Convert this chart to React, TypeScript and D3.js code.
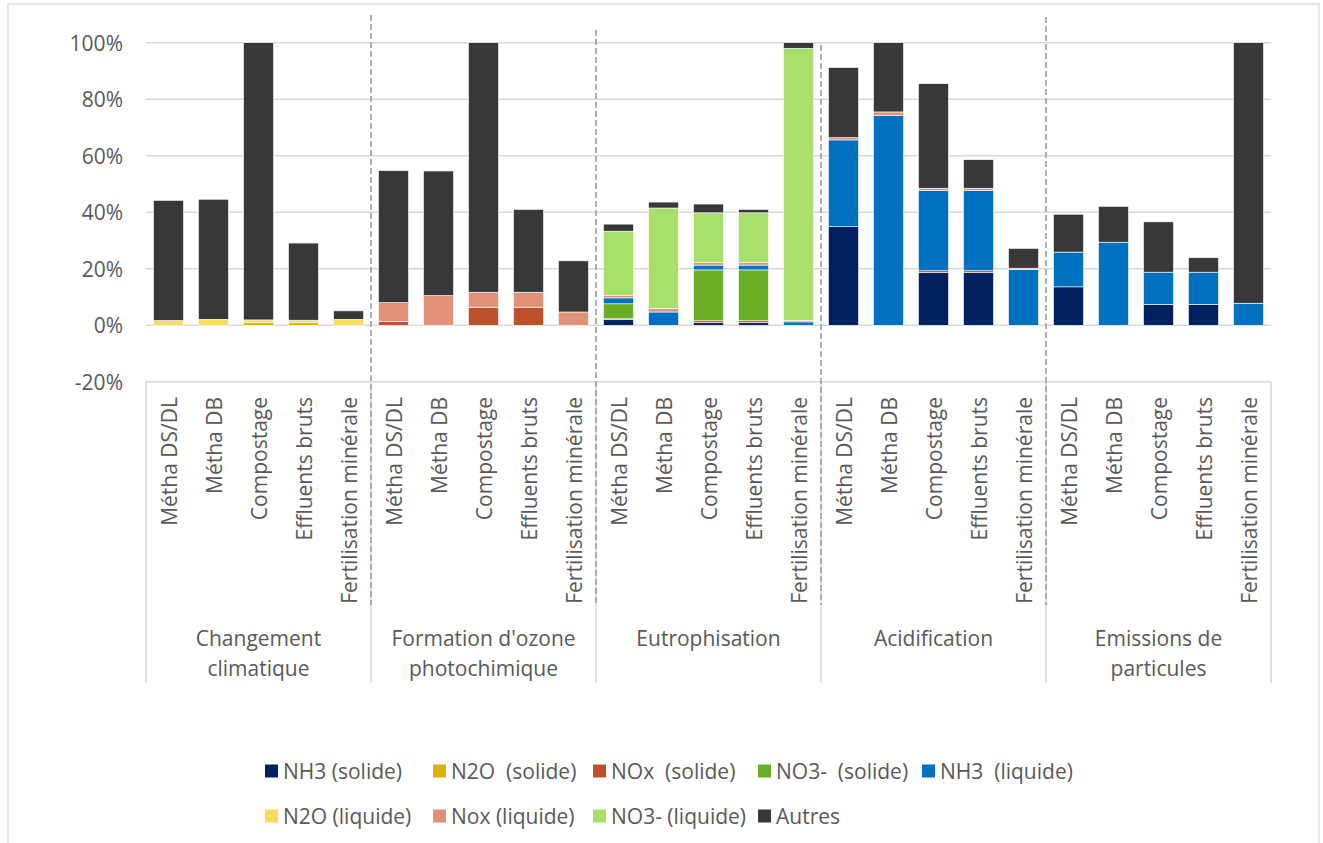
import React from "react";
import * as d3 from "d3";

const categories = ["Métha DS/DL", "Métha DB", "Compostage", "Effluents bruts", "Fertilisation minérale"];
const groups = ["Changement\nclimatique", "Formation d'ozone\nphotochimique", "Eutrophisation", "Acidification", "Emissions de\nparticules"];
const seriesNames = ["NH3 (solide)", "N2O  (solide)", "NOx  (solide)", "NO3-  (solide)", "NH3  (liquide)", "N2O (liquide)", "Nox (liquide)", "NO3- (liquide)", "Autres"];
const seriesColors = ["#002060", "#dbb30b", "#be512b", "#6aae23", "#0070c0", "#f9dc5c", "#e09178", "#a6e06b", "#38383a"];

// values in %, 25 bars: 5 groups x 5 categories
const nh3Solide = [0, 0, 0, 0, 0, 0, 0, 0, 0, 0, 2.0, 0, 0.9, 0.9, 0, 34.9, 0, 18.6, 18.6, 0, 13.6, 0, 7.4, 7.4, 0];
const n2oSolide = [0, 0, 0.9, 0.9, 0, 0, 0, 0, 0, 0, 0, 0, 0, 0, 0, 0, 0, 0, 0, 0, 0, 0, 0, 0, 0];
const noxSolide = [0, 0, 0, 0, 0, 1.3, 0, 6.4, 6.4, 0, 0.3, 0, 0.7, 0.7, 0, 0, 0, 0.7, 0.7, 0, 0, 0, 0, 0, 0];
const no3Solide = [0, 0, 0, 0, 0, 0, 0, 0, 0, 0, 5.3, 0, 18.0, 18.0, 0, 0, 0, 0, 0, 0, 0, 0, 0, 0, 0];
const nh3Liquide = [0, 0, 0, 0, 0, 0, 0, 0, 0, 0, 2.1, 4.7, 1.7, 1.7, 1.2, 30.7, 74.2, 28.5, 28.5, 19.7, 12.3, 29.4, 11.4, 11.4, 7.8];
const n2oLiquide = [1.7, 2.1, 1.0, 0.9, 2.1, 0, 0, 0, 0, 0, 0, 0, 0, 0, 0, 0, 0, 0, 0, 0, 0, 0, 0, 0, 0];
const noxLiquide = [0, 0, 0, 0, 0, 6.7, 10.5, 5.3, 5.3, 4.7, 0.8, 1.3, 0.9, 0.9, 0.5, 0.8, 1.3, 0.7, 0.7, 0.5, 0, 0, 0, 0, 0];
const no3Liquide = [0, 0, 0, 0, 0, 0, 0, 0, 0, 0, 22.8, 35.5, 17.6, 17.6, 96.3, 0, 0, 0, 0, 0, 0, 0, 0, 0, 0];
const autres = [42.5, 42.5, 98.1, 27.3, 3.0, 46.7, 44.1, 88.3, 29.3, 18.1, 2.5, 2.1, 3.1, 1.2, 2.0, 24.8, 24.5, 37.0, 10.1, 7.0, 13.4, 12.7, 17.8, 5.1, 92.2];

const yTicks = [-20, 0, 20, 40, 60, 80, 100];

const seriesValues = [nh3Solide, n2oSolide, noxSolide, no3Solide, nh3Liquide, n2oLiquide, noxLiquide, no3Liquide, autres];

const FONT = "'Open Sans', sans-serif";
const TXT = "#595959";
const GRID = "#d9d9d9";
const FS = 21;

export default function App() {
  const W = 1323, H = 843;
  const x0 = 146, x1 = 1271;
  const y = d3.scaleLinear().domain([-20, 100]).range([381.8, 42.7]);

  const barIds = d3.range(groups.length * categories.length);
  const x = d3.scaleBand<number>().domain(barIds).range([x0, x1]).paddingInner(1 / 3).paddingOuter(1 / 6);

  const rows = barIds.map((i) => {
    const r: any = { id: i };
    seriesNames.forEach((s, k) => (r[s] = seriesValues[k][i]));
    return r;
  });
  const stacked = d3.stack<any>().keys(seriesNames)(rows);

  const groupW = (x1 - x0) / groups.length;
  const dashTops = [15, 30, 45, 17];
  const legendCols = [265, 433, 593, 758, 922];
  const legendRows = [771, 816];

  return (
    <div style={{ position: "absolute", left: 0, top: 0 }}>
      <svg width={W} height={H} style={{ display: "block", fontFamily: FONT }}>
        <rect x={0} y={0} width={W} height={H} fill="#fff" />
        <rect x={8} y={4} width={1311} height={H + 10} fill="none" stroke={GRID} strokeWidth={1.2} />

        {yTicks.map((t) => (
          <line key={t} x1={x0} x2={x1} y1={y(t)} y2={y(t)} stroke={GRID} strokeWidth={1.5} />
        ))}
        {yTicks.map((t) => (
          <text key={"l" + t} x={123} y={y(t)} textAnchor="end" dominantBaseline="central" fontSize={FS} fill={TXT}>
            {t + "%"}
          </text>
        ))}

        {stacked.map((layer, k) => (
          <g key={layer.key} fill={seriesColors[k]}>
            {layer.map((d, i) =>
              d[1] - d[0] > 0 ? (
                <rect
                  key={i}
                  x={x(i)}
                  width={x.bandwidth()}
                  y={y(d[1])}
                  height={y(d[0]) - y(d[1])}
                  stroke="#ffffff"
                  strokeWidth={0.6}
                />
              ) : null
            )}
          </g>
        ))}

        <line x1={x0} x2={x0} y1={y(-20)} y2={683} stroke={GRID} strokeWidth={1.5} />
        <line x1={x1} x2={x1} y1={y(-20)} y2={683} stroke={GRID} strokeWidth={1.5} />
        {d3.range(1, groups.length).map((g) => (
          <line key={"s" + g} x1={x0 + g * groupW} x2={x0 + g * groupW} y1={y(-20)} y2={683} stroke={GRID} strokeWidth={1.5} />
        ))}
        {d3.range(1, groups.length).map((g) => (
          <line
            key={"d" + g}
            x1={x0 + g * groupW}
            x2={x0 + g * groupW}
            y1={dashTops[g - 1]}
            y2={605}
            stroke="#a6a6a6"
            strokeWidth={1.8}
            strokeDasharray="6 3"
          />
        ))}

        {barIds.map((i) => {
          const cx = (x(i) as number) + x.bandwidth() / 2;
          return (
            <text
              key={"c" + i}
              transform={`translate(${cx},397) rotate(-90)`}
              textAnchor="end"
              dominantBaseline="central"
              fontSize={FS}
              fill={TXT}
            >
              {categories[i % categories.length]}
            </text>
          );
        })}

        {groups.map((g, gi) => {
          const cx = x0 + gi * groupW + groupW / 2;
          return g.split("\n").map((line, li) => (
            <text key={"g" + gi + li} x={cx} y={638 + li * 30} textAnchor="middle" dominantBaseline="central" fontSize={FS} fill={TXT}>
              {line}
            </text>
          ));
        })}

        {seriesNames.map((s, k) => {
          const col = k % 5;
          const row = Math.floor(k / 5);
          const lx = legendCols[col];
          const ly = legendRows[row];
          return (
            <g key={"lg" + k}>
              <rect x={lx} y={ly - 6.5} width={13} height={13} fill={seriesColors[k]} />
              <text x={lx + 18} y={ly} dominantBaseline="central" fontSize={FS} fill={TXT} style={{ whiteSpace: "pre" }}>
                {s}
              </text>
            </g>
          );
        })}
      </svg>
    </div>
  );
}
